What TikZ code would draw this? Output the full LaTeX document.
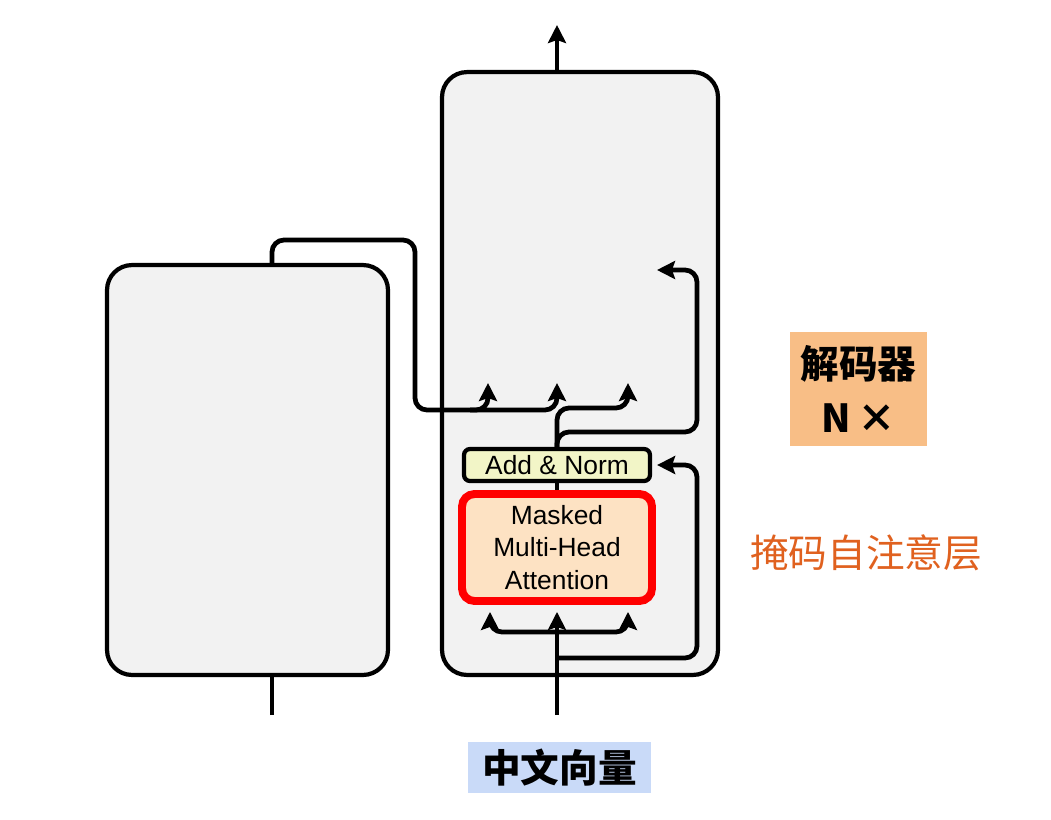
\documentclass[tikz,border=0pt]{standalone}
\usepackage{fontspec}
\setmainfont{Liberation Sans}
\newfontfamily\cjk{Noto Sans CJK SC}
\usetikzlibrary{arrows.meta,positioning}
\definecolor{panel}{HTML}{F2F2F2}
\definecolor{normfill}{HTML}{F2F5C7}
\definecolor{attnfill}{HTML}{FDE2C3}
\definecolor{attnred}{HTML}{FF0000}
\definecolor{tagfill}{HTML}{F8BE86}
\definecolor{infill}{HTML}{C9DAF8}
\definecolor{notecol}{HTML}{E0611F}

\begin{document}
\begin{tikzpicture}[x=0.02cm, y=-0.02cm, every node/.style={font=\fontsize{15}{18.7}\selectfont}, block/.style={draw,line width=2.4pt,rounded corners=5mm,fill=panel,inner sep=0pt}, normbox/.style={draw,line width=2.4pt,rounded corners=1.2mm,fill=normfill,minimum width=3.72cm,minimum height=0.64cm,inner sep=0pt}, attn/.style={draw=attnred,line width=4.5pt,rounded corners=2.5mm,fill=attnfill,minimum width=3.8cm,minimum height=2.14cm,align=center,inner sep=0pt}, tag/.style={fill=#1,inner sep=0pt,align=center,font=\cjk\bfseries\fontsize{22}{31}\selectfont}, wire/.style={line width=2.7pt,rounded corners=2.4mm}, arrow/.style={wire,-{Stealth[length=3.6mm,width=3.6mm,inset=0.6mm]}}]
\useasboundingbox (0,0) rectangle (1051,819);
\node[block,minimum width=5.62cm,minimum height=8.2cm] (enc) at (247.5,470) {};
\node[block,minimum width=5.52cm,minimum height=12.06cm] (dec) at (580,373.5) {};
\node[attn] (mha) at (557,547.5) {Masked\\Multi-Head\\Attention};
\node[normbox] (addn) at (557,465) {Add \& Norm};
\node[tag=tagfill,minimum width=2.74cm,minimum height=2.28cm] (title) at (858.5,389) {解码器\\N\,×};
\node[font=\cjk\fontsize{22}{26}\selectfont,text=notecol] (note) at (866,553) {掩码自注意层};
\node[tag=infill,minimum width=3.66cm,minimum height=1.02cm] (vec) at (559.5,767.5) {中文向量};
\coordinate (kv1) at (488,383);
\coordinate (kv2) at (557,383);
\coordinate (qry) at (628,383);
\coordinate (ffin) at (657,270);
\coordinate (encin) at (272,715);
\coordinate (decin) at (557,715);
\coordinate (decout) at (557,25);
\coordinate (vl) at (490,632);
\coordinate (vr) at (628,632);
\draw[wire] (encin) -- (encin |- enc.south);
\draw[arrow] (enc.north -| encin) -- (272,240) -- (415,240) -- (415,410) -| (kv2);
\draw[arrow] (470,410) -| (kv1);
\draw[arrow] (addn.north) -- (557,408) -| (qry);
\draw[arrow] (addn.north) -- (557,432) -- (697,432) -- (697,270) -- (ffin);
\draw[wire] (addn.south) -- (mha.north);
\draw[arrow,shorten >=1.4mm] (decin) -- (mha.south);
\draw[arrow,shorten >=1.4mm] (557,632) -| (mha.south -| vl);
\draw[arrow,shorten >=1.4mm] (557,632) -| (mha.south -| vr);
\draw[arrow,shorten >=1mm] (557,658) -- (697,658) -- (697,465) -- (addn.east);
\draw[arrow] (dec.north -| decout) -- (decout);
\end{tikzpicture}
\end{document}
